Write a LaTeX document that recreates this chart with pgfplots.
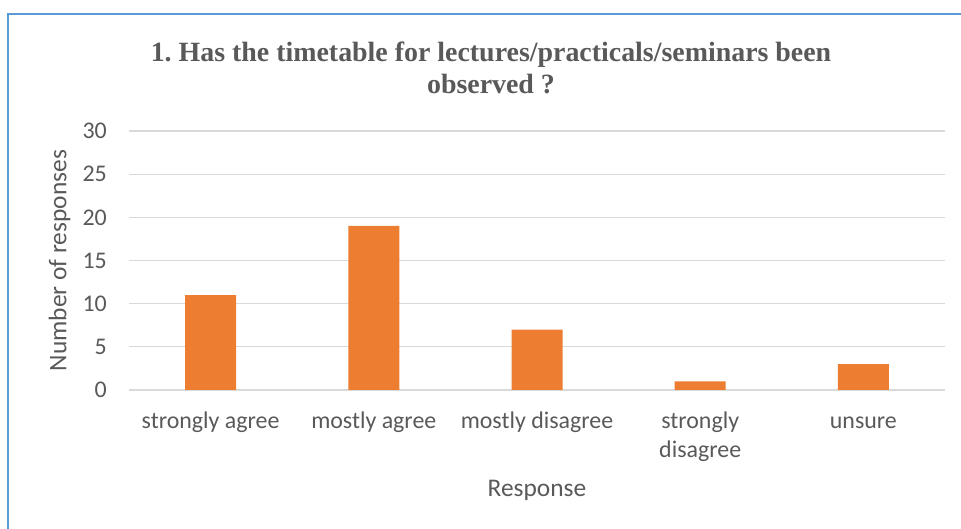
\documentclass[border=0pt]{standalone}
\usepackage{fontspec}
\setmainfont{Carlito}
\newfontfamily\titlefont{Liberation Serif}
\usepackage{pgfplots}
\pgfplotsset{compat=1.18}
\definecolor{txt}{HTML}{595959}
\definecolor{barc}{HTML}{ED7D31}
\definecolor{gridc}{HTML}{D9D9D9}
\definecolor{framec}{HTML}{5B9BD5}

\begin{document}
\begin{tikzpicture}[x=1bp,y=1bp]
\path[use as bounding box] (0,0) rectangle (961,529);
\draw[framec, line width=2bp] (8,0) -- (8,515) -- (961,515);
\node[txt, align=center, font=\titlefont\bfseries\fontsize{28}{32}\selectfont]
  at (491,461) {1.\ Has the timetable for lectures/practicals/seminars been\\observed ?};
\begin{axis}[
    at={(129bp,139bp)}, anchor=south west,
    scale only axis, width=816bp, height=259bp,
    ybar, bar width=51bp,
    xmin=-0.5, xmax=4.5, ymin=0, ymax=30,
    enlargelimits=false,
    xtick={0,1,2,3,4},
    xticklabels={\strut strongly agree, \strut mostly agree, \strut mostly disagree, {\strut strongly\\disagree}, \strut unsure},
    ytick={0,5,...,30},
    ymajorgrids, grid style={gridc, line width=1.2bp},
    axis line style={draw=none},
    major tick length=0pt,
    /pgf/number format/assume math mode=true,
    tick label style={font=\fontsize{24}{29}\selectfont, text=txt, inner sep=0pt},
    yticklabel style={anchor=east, xshift=-22bp},
    xticklabel style={align=center, anchor=north, yshift=-17.7bp},
    xlabel={Response}, ylabel={Number of responses},
    label style={font=\fontsize{25.5}{30}\selectfont, text=txt},
    xlabel style={at={(axis description cs:0.5,-0.386)}, anchor=center},
    ylabel style={at={(axis description cs:-0.085,0.5)}, anchor=center},
  ]
  \addplot[fill=barc, draw=none] coordinates {(0,11) (1,19) (2,7) (3,1) (4,3)};
\end{axis}
\end{tikzpicture}
\end{document}
